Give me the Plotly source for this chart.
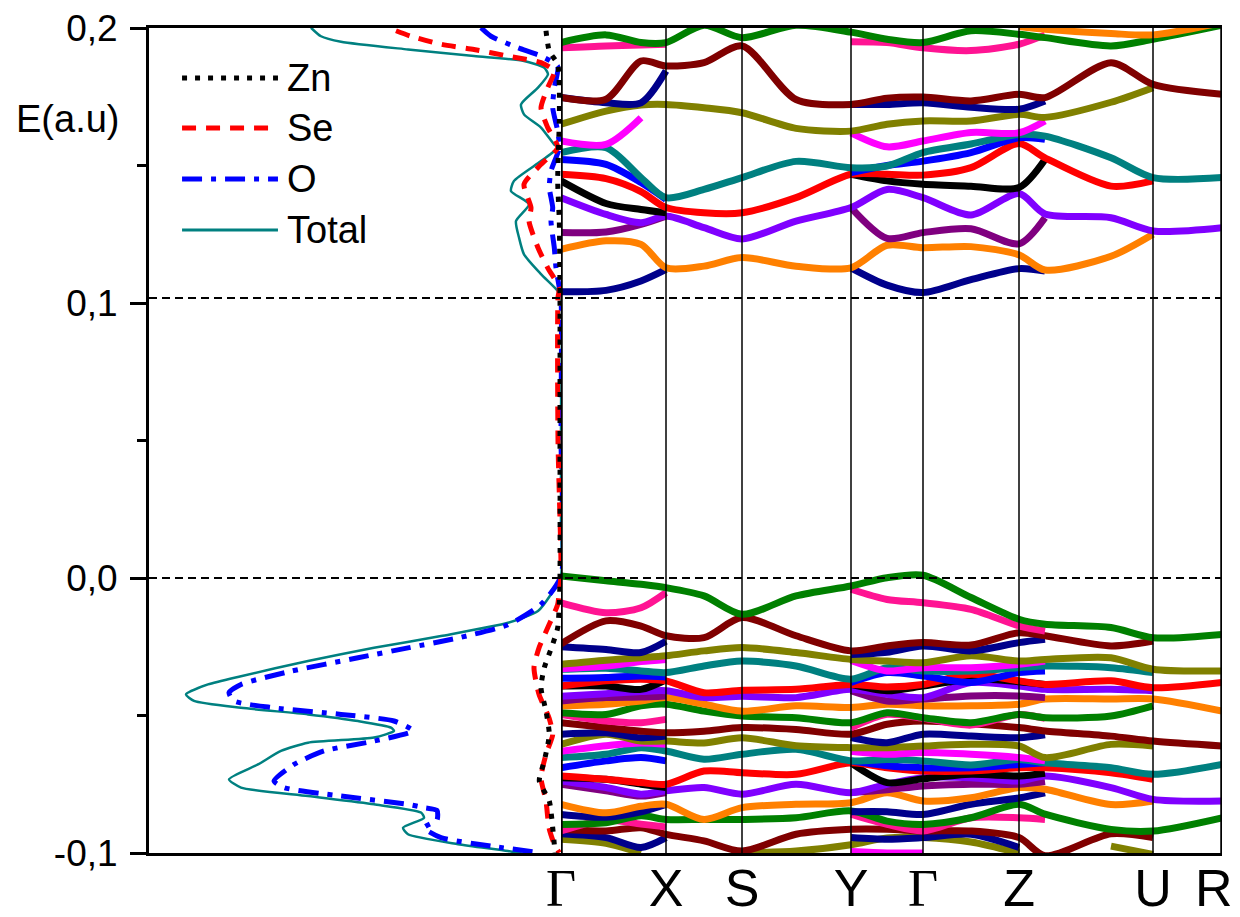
import plotly.graph_objects as go

N = None

# ---------------- k-path (band panel) ----------------
K = [0.00, 0.45, 0.80, 1.05, 1.43, 1.81, 2.35, 2.90, 3.26, 3.62, 4.10, 4.58, 4.84, 5.50, 5.92, 6.61]
SYM_K = [0.00, 1.05, 1.81, 2.90, 3.62, 4.58, 5.92, 6.61]
SYM_LABELS = ["Γ", "X", "S", "Y", "Γ", "Z", "U", "R"]
E_VBM = 0.0
E_CBM = 0.1018

# ---------------- conduction bands (E in a.u.) ----------------
c_navy1 = [0.1041, 0.1046, 0.1080, 0.1122, N, N, N, 0.1128, 0.1065, 0.1038, 0.1085, 0.1125, 0.1116, N, N, N]
c_orange = [0.1195, 0.1226, 0.1213, 0.1128, 0.1134, 0.1165, 0.1134, 0.1128, 0.1210, 0.1201, 0.1205, 0.1175, 0.1120, 0.1170, 0.1250, N]
c_purple = [0.1256, 0.1258, 0.1286, 0.1316, N, N, N, 0.1347, 0.1235, 0.1256, 0.1270, 0.1215, 0.1310, N, N, N]
c_violet = [0.1383, 0.1322, 0.1292, 0.1316, 0.1274, 0.1233, 0.1298, 0.1347, 0.1413, 0.1383, 0.1320, 0.1398, 0.1324, 0.1310, 0.1262, 0.1274]
c_black = [0.1444, 0.1362, 0.1340, 0.1328, N, N, N, 0.1468, 0.1444, 0.1432, 0.1425, 0.1420, 0.1522, N, N, N]
c_red = [0.1468, 0.1452, 0.1405, 0.1347, 0.1328, 0.1328, 0.1383, 0.1468, 0.1468, 0.1465, 0.1492, 0.1580, 0.1528, 0.1425, 0.1444, N]
c_blue = [0.1522, 0.1504, 0.1438, 0.1377, N, N, N, 0.1474, 0.1500, 0.1516, 0.1547, 0.1601, 0.1595, N, N, N]
c_teal = [0.1547, 0.1565, 0.1456, 0.1383, 0.1413, 0.1456, 0.1515, 0.1492, 0.1498, 0.1547, 0.1578, 0.1613, 0.1607, 0.1528, 0.1456, 0.1456]
c_magenta = [0.1589, 0.1577, 0.1674, N, N, N, N, 0.1619, 0.1568, 0.1589, 0.1620, 0.1619, 0.1662, N, N, N]
c_olive = [0.1650, 0.1698, 0.1720, 0.1722, 0.1710, 0.1692, 0.1635, 0.1625, 0.1650, 0.1662, 0.1662, 0.1686, 0.1675, 0.1730, 0.1783, N]
c_navy2 = [0.1747, 0.1728, 0.1728, 0.1844, N, N, N, 0.1722, 0.1722, 0.1728, 0.1712, 0.1705, 0.1735, N, N, N]
c_maroon = [0.1747, 0.1741, 0.1880, 0.1862, 0.1874, 0.1935, 0.1740, 0.1722, 0.1745, 0.1749, 0.1735, 0.1759, 0.1747, 0.1874, 0.1795, 0.1759]
c_pink = [0.1928, 0.1935, 0.1938, 0.1941, N, N, N, 0.1950, 0.1947, 0.1928, 0.1918, 0.1941, 0.1975, N, N, N]
c_green = [0.1947, 0.1975, 0.1947, 0.1947, 0.2010, 0.1965, 0.2010, 0.1985, 0.1959, 0.1947, 0.1990, 0.1977, 0.1965, 0.1935, 0.1959, 0.2010]
c_orange_top = [N, N, N, N, N, N, N, N, N, N, N, 0.2005, 0.1995, 0.1980, 0.1975, 0.2020]

# ---------------- valence bands ----------------
v_green1 = [0.0007, -0.0010, -0.0023, -0.0035, -0.0065, -0.0132, -0.0065, -0.0029, 0.0001, 0.0010, -0.0071, -0.0150, -0.0168, -0.0180, -0.0217, -0.0205]
v_pink1 = [-0.0090, -0.0126, -0.0108, -0.0053, N, N, N, -0.0041, -0.0078, -0.0090, -0.0114, -0.0174, -0.0193, N, N, N]
v_maroon1 = [-0.0240, -0.0156, -0.0175, -0.0210, -0.0217, -0.0144, -0.0210, -0.0265, -0.0247, -0.0235, -0.0244, -0.0199, -0.0210, -0.0247, -0.0229, N]
v_navy1 = [-0.0250, -0.0260, -0.0271, -0.0230, N, N, N, -0.0278, -0.0270, -0.0247, -0.0265, -0.0235, -0.0223, N, N, N]
v_olive1 = [-0.0314, -0.0299, -0.0290, -0.0283, -0.0265, -0.0253, -0.0271, -0.0296, -0.0302, -0.0308, -0.0283, -0.0302, -0.0296, -0.0290, -0.0332, -0.0338]
v_magenta1 = [-0.0330, -0.0320, -0.0304, -0.0296, N, N, N, -0.0300, -0.0338, -0.0326, -0.0326, -0.0314, -0.0302, N, N, N]
v_teal1 = [-0.0332, -0.0328, -0.0338, -0.0344, -0.0320, -0.0302, -0.0320, -0.0368, -0.0326, -0.0338, -0.0338, -0.0326, -0.0320, -0.0326, -0.0344, N]
v_blue1 = [-0.0365, -0.0362, -0.0356, -0.0360, N, N, N, -0.0380, -0.0344, -0.0356, -0.0380, -0.0344, -0.0338, N, N, N]
v_red1 = [-0.0393, -0.0374, -0.0368, -0.0374, -0.0417, -0.0408, -0.0405, -0.0387, -0.0396, -0.0387, -0.0350, -0.0374, -0.0387, -0.0374, -0.0399, -0.0380]
v_black1 = [-0.0393, -0.0393, -0.0405, -0.0370, N, N, N, -0.0387, -0.0410, -0.0393, -0.0368, -0.0377, -0.0387, N, N, N]
v_violet1 = [-0.0430, -0.0421, -0.0413, -0.0410, -0.0435, -0.0430, -0.0435, -0.0405, -0.0423, -0.0435, -0.0380, -0.0393, -0.0405, -0.0405, -0.0410, N]
v_purple1 = [-0.0447, -0.0435, -0.0433, -0.0429, N, N, N, -0.0410, -0.0447, -0.0440, -0.0429, -0.0429, -0.0435, N, N, N]
v_orange1 = [-0.0465, -0.0459, -0.0447, -0.0435, -0.0459, -0.0484, -0.0465, -0.0471, -0.0459, -0.0465, -0.0465, -0.0459, -0.0440, -0.0440, -0.0440, -0.0484]
v_green2 = [-0.0490, -0.0496, -0.0465, -0.0459, -0.0484, -0.0502, -0.0508, -0.0526, -0.0490, -0.0508, -0.0526, -0.0496, -0.0508, -0.0502, -0.0465, N]
v_pink2 = [-0.0496, -0.0520, -0.0526, -0.0514, N, N, N, -0.0545, -0.0496, -0.0510, -0.0535, -0.0496, -0.0510, N, N, N]
v_maroon2 = [-0.0526, -0.0544, -0.0557, -0.0563, -0.0557, -0.0544, -0.0551, -0.0568, -0.0532, -0.0520, -0.0530, -0.0544, -0.0556, -0.0575, -0.0593, -0.0611]
v_navy2 = [-0.0568, -0.0563, -0.0581, -0.0575, N, N, N, -0.0580, -0.0599, -0.0568, -0.0575, -0.0581, -0.0570, N, N, N]
v_olive2 = [-0.0605, -0.0568, -0.0593, -0.0593, -0.0600, -0.0581, -0.0610, -0.0617, -0.0617, -0.0611, -0.0605, -0.0611, -0.0653, -0.0605, -0.0611, N]
v_magenta2 = [-0.0630, -0.0610, -0.0600, -0.0605, N, N, N, -0.0630, -0.0641, -0.0635, -0.0641, -0.0653, -0.0665, N, N, N]
v_teal2 = [-0.0653, -0.0641, -0.0617, -0.0629, -0.0659, -0.0641, -0.0623, -0.0665, -0.0660, -0.0665, -0.0680, -0.0660, -0.0672, -0.0690, -0.0714, -0.0678]
v_blue2 = [-0.0690, -0.0665, -0.0653, -0.0665, N, N, N, -0.0665, -0.0683, -0.0690, -0.0690, -0.0678, -0.0672, N, N, N]
v_red2 = [-0.0720, -0.0732, -0.0744, -0.0750, -0.0702, -0.0708, -0.0714, -0.0672, -0.0690, -0.0702, -0.0702, -0.0690, -0.0690, -0.0708, -0.0732, N]
v_black2 = [-0.0726, -0.0732, -0.0750, -0.0762, N, N, N, -0.0672, -0.0744, -0.0730, -0.0714, -0.0720, -0.0710, N, N, N]
v_violet2 = [-0.0738, -0.0762, -0.0786, -0.0774, -0.0762, -0.0786, -0.0750, -0.0781, -0.0750, -0.0726, -0.0726, -0.0738, -0.0720, -0.0762, -0.0805, -0.0811]
v_purple2 = [-0.0750, -0.0774, -0.0793, -0.0780, N, N, N, -0.0780, -0.0770, -0.0756, -0.0750, -0.0750, -0.0740, N, N, N]
v_orange2 = [-0.0823, -0.0854, -0.0830, -0.0823, -0.0878, -0.0835, -0.0823, -0.0817, -0.0781, -0.0811, -0.0799, -0.0762, -0.0768, -0.0824, -0.0811, N]
v_navy3 = [-0.0860, -0.0870, -0.0850, -0.0823, N, N, N, -0.0850, -0.0850, -0.0860, -0.0823, -0.0800, -0.0781, N, N, N]
v_green3 = [-0.0896, -0.0890, -0.0865, -0.0878, -0.0878, -0.0878, -0.0872, -0.0847, -0.0884, -0.0896, -0.0872, -0.0823, -0.0859, -0.0914, -0.0920, -0.0872]
v_pink3 = [-0.0920, -0.0880, -0.0895, -0.0905, N, N, N, -0.0859, -0.0896, -0.0920, -0.0872, -0.0872, -0.0878, N, N, N]
v_maroon3 = [-0.0914, -0.0920, -0.0908, -0.0932, -0.0956, -0.0993, -0.0932, -0.0914, -0.0914, -0.0920, -0.0920, -0.0944, -0.1010, -0.0930, -0.0944, N]
v_navy4 = [-0.0930, -0.0944, -0.0980, -0.0944, N, N, N, -0.0944, -0.0950, -0.0944, -0.0932, -0.0980, N, N, N, N]
v_olive3 = [-0.0950, -0.0965, -0.1000, N, N, -0.1000, -0.0993, -0.0970, -0.0945, -0.0944, -0.0960, -0.1000, N, -0.0975, -0.1005, N]
v_magenta3 = [N, N, N, N, N, N, N, -0.0995, -0.1000, -0.1000, N, N, N, N, N, N]

# ---------------- partial DOS (arb. units, E in a.u.) ----------------
tot_E = [0.2001, 0.1970, 0.1950, 0.1922, 0.1898, 0.1880, 0.1856, 0.1832, 0.1783, 0.1722, 0.1686, 0.1638,
         0.1577, 0.1565, 0.1516, 0.1444, 0.1407, 0.1359, 0.1298, 0.1238, 0.1177, 0.1105, 0.1044, 0.1020,
         0.0600, 0.0200, 0.0007, -0.0059, -0.0120, -0.0163, -0.0211, -0.0254, -0.0302, -0.0357, -0.0387,
         -0.0423, -0.0447, -0.0472, -0.0496, -0.0520, -0.0544, -0.0556, -0.0580, -0.0599, -0.0629, -0.0678,
         -0.0732, -0.0762, -0.0793, -0.0823, -0.0853, -0.0872, -0.0908, -0.0932, -0.0968, -0.0993, -0.1005]
tot_D = [25.0, 24.0, 22.0, 15.3, 8.7, 3.7, 1.7, 1.3, 2.3, 4.0, 3.7, 2.0,
         0.7, 0.33, 2.0, 4.7, 5.0, 3.2, 4.5, 4.2, 3.7, 2.0, 0.33, 0.0,
         0.0, 0.0, 0.0, 1.0, 2.3, 5.3, 12.0, 18.7, 25.3, 32.0, 35.3,
         37.5, 36.7, 32.0, 25.3, 20.3, 17.0, 16.7, 18.7, 25.3, 28.0, 30.3,
         33.2, 32.0, 25.3, 18.7, 14.0, 13.7, 15.8, 15.3, 10.3, 5.3, 3.5]

O_E = [0.2001, 0.1970, 0.1928, 0.1898, 0.1860, 0.1783, 0.1710, 0.1625, 0.1565, 0.1480, 0.1420, 0.1347,
       0.1298, 0.1201, 0.1128, 0.1056, 0.1020, 0.0500, 0.0007, -0.0096, -0.0170, -0.0218, -0.0254, -0.0290,
       -0.0339, -0.0387, -0.0417, -0.0447, -0.0472, -0.0496, -0.0520, -0.0556, -0.0593, -0.0629, -0.0678,
       -0.0738, -0.0762, -0.0793, -0.0823, -0.0835, -0.0845, -0.0880, -0.0908, -0.0944, -0.0975, -0.0999]
O_D = [8.0, 7.0, 4.3, 2.0, 0.33, 0.67, 0.83, 0.33, 0.17, 1.0, 1.17, 0.83,
       1.0, 0.67, 0.5, 0.17, 0.0, 0.0, 0.0, 2.0, 5.3, 10.3, 15.3, 20.3,
       27.0, 32.0, 33.2, 32.7, 28.7, 22.0, 16.7, 14.8, 18.7, 23.7, 26.7,
       28.7, 27.7, 22.0, 15.3, 13.7, 12.4, 12.4, 13.7, 12.0, 7.0, 2.0]

Se_E = [0.1990, 0.1970, 0.1941, 0.1922, 0.1898, 0.1874, 0.1844, 0.1783, 0.1710, 0.1638, 0.1565, 0.1504,
        0.1432, 0.1347, 0.1298, 0.1201, 0.1128, 0.1056, 0.1020, 0.0500, 0.0007, -0.0047, -0.0096, -0.0181,
        -0.0254, -0.0326, -0.0423, -0.0508, -0.0570, -0.0641, -0.0726, -0.0811, -0.0908, -0.0968, -0.0999]
Se_D = [16.5, 15.0, 12.0, 8.7, 5.3, 2.0, 0.67, 1.33, 2.0, 1.33, 0.33, 2.0,
        3.7, 3.0, 3.2, 2.3, 1.33, 0.17, 0.3, 0.3, 0.0, 0.17, 0.33, 1.33,
        2.2, 2.7, 2.2, 1.2, 0.83, 1.5, 2.0, 1.5, 1.2, 0.67, 0.17]

Zn_E = [0.1990, 0.1916, 0.1868, 0.1783, 0.1662, 0.1444, 0.1298, 0.1020, 0.0500, 0.0000, -0.0096, -0.0181,
        -0.0241, -0.0326, -0.0399, -0.0484, -0.0570, -0.0665, -0.0738, -0.0811, -0.0908, -0.0968, -0.1000]
Zn_D = [1.5, 1.17, 0.33, 0.17, 0.17, 0.33, 0.17, 0.1, 0.1, 0.1, 0.17, 0.33,
        0.83, 1.67, 2.0, 1.5, 1.17, 1.67, 2.17, 1.17, 0.83, 0.67, 0.6]

DOS_MAX = 41.2
E_MIN, E_MAX = -0.1, 0.2

# ---------------- styles ----------------
COLORS = {
    "black": "#000000", "red": "#FF0000", "blue": "#0000FF", "magenta": "#FF00FF",
    "olive": "#808000", "navy": "#00008B", "violet": "#8000FF", "purple": "#800080",
    "maroon": "#800000", "teal": "#008080", "orange": "#FF8000", "pink": "#FF1493",
    "green": "#008000",
}

BANDS = [
    (c_navy1, "navy"), (c_orange, "orange"), (c_purple, "purple"), (c_violet, "violet"),
    (c_black, "black"), (c_red, "red"), (c_blue, "blue"), (c_teal, "teal"),
    (c_magenta, "magenta"), (c_olive, "olive"), (c_navy2, "navy"), (c_maroon, "maroon"),
    (c_pink, "pink"), (c_green, "green"), (c_orange_top, "orange"),
    (v_olive3, "olive"), (v_navy4, "navy"), (v_maroon3, "maroon"), (v_pink3, "pink"),
    (v_green3, "green"), (v_navy3, "navy"), (v_orange2, "orange"), (v_purple2, "purple"),
    (v_violet2, "violet"), (v_black2, "black"), (v_red2, "red"), (v_blue2, "blue"),
    (v_teal2, "teal"), (v_magenta2, "magenta"), (v_olive2, "olive"), (v_navy2, "navy"),
    (v_maroon2, "maroon"), (v_pink2, "pink"), (v_green2, "green"), (v_orange1, "orange"),
    (v_purple1, "purple"), (v_violet1, "violet"), (v_black1, "black"), (v_red1, "red"),
    (v_blue1, "blue"), (v_teal1, "teal"), (v_magenta1, "magenta"), (v_olive1, "olive"),
    (v_navy1, "navy"), (v_maroon1, "maroon"), (v_pink1, "pink"), (v_green1, "green"),
    (v_magenta3, "magenta"),
]

DOS_STYLE = [
    ("Total", tot_D, tot_E, dict(color="#008080", width=2.5, dash="solid")),
    ("O", O_D, O_E, dict(color="#0000FF", width=5, dash="20px,9px,5px,9px")),
    ("Se", Se_D, Se_E, dict(color="#FF0000", width=5, dash="14px,10px")),
    ("Zn", Zn_D, Zn_E, dict(color="#000000", width=5, dash="5px,8px")),
]

FONT = "Liberation Sans, Arial, sans-serif"
SPLIT = 412 / 1073

fig = go.Figure()

for vals, col in BANDS:
    fig.add_trace(go.Scatter(
        x=K, y=vals, xaxis="x2", yaxis="y", mode="lines", connectgaps=False,
        line=dict(color=COLORS[col], width=7, shape="spline", smoothing=0.8),
        showlegend=False, hoverinfo="skip"))

for name, d, e, ln in DOS_STYLE:
    fig.add_trace(go.Scatter(
        x=d, y=e, xaxis="x", yaxis="y", mode="lines", name=name,
        line=dict(color=ln["color"], width=ln["width"], dash=ln["dash"], shape="spline", smoothing=0.6),
        showlegend=False, hoverinfo="skip"))

shapes = []
for i, k in enumerate(SYM_K):
    edge = i == 0 or i == len(SYM_K) - 1
    shapes.append(dict(type="line", xref="x2", yref="y", x0=k, x1=k, y0=E_MIN, y1=E_MAX,
                       line=dict(color="black", width=3.5 if edge else 1.5), layer="above"))
for e in (E_VBM, E_CBM):
    shapes.append(dict(type="line", xref="paper", yref="y", x0=0, x1=1, y0=e, y1=e,
                       line=dict(color="black", width=2, dash="8px,5px"), layer="above"))

# manual legend (line samples + labels)
legend_rows = [0.9394, 0.8788, 0.8170, 0.7552]
legend_items = [("Zn", DOS_STYLE[3][3]), ("Se", DOS_STYLE[2][3]), ("O", DOS_STYLE[1][3]), ("Total", DOS_STYLE[0][3])]
annotations = []
for (label, ln), yy in zip(legend_items, legend_rows):
    shapes.append(dict(type="line", xref="paper", yref="paper", x0=0.0308, x1=0.1202, y0=yy, y1=yy,
                       line=dict(color=ln["color"], width=ln["width"] if label != "Total" else 3, dash=ln["dash"])))
    annotations.append(dict(xref="paper", yref="paper", x=0.1270, y=yy, text=label, showarrow=False,
                            xanchor="left", yanchor="middle", font=dict(family=FONT, size=38, color="black")))

annotations.append(dict(xref="paper", yref="paper", x=-0.0755, y=0.8897, text="E(a.u)", showarrow=False,
                        xanchor="center", yanchor="middle", font=dict(family=FONT, size=38, color="black")))

# tick labels of the k-path; the last one (R) is placed as an annotation nudged left so it stays on the page
tick_text = []
for s in SYM_LABELS[:-1]:
    tick_text.append('<span style="font-family:Liberation Serif">Γ</span>' if s == "Γ" else s)
tick_text.append("")
annotations.append(dict(xref="x2", yref="paper", x=SYM_K[-1], y=0, text=SYM_LABELS[-1], showarrow=False,
                        xanchor="center", yanchor="top", xshift=-8, yshift=-5, borderpad=0,
                        font=dict(family=FONT, size=52, color="black")))

# the page body adds an ~7px offset; compensate so the plot lands where the reference has it
OFF = 7
fig.update_layout(
    width=1240 - OFF, height=917 - OFF,
    margin=dict(l=148 - OFF, r=19, t=27 - OFF, b=65, pad=0, autoexpand=False),
    paper_bgcolor="white", plot_bgcolor="white",
    showlegend=False,
    shapes=shapes, annotations=annotations,
    xaxis=dict(domain=[0, SPLIT], range=[DOS_MAX, 0], anchor="y", showline=True, mirror=True, automargin=False,
               linecolor="black", linewidth=3, ticks="", showticklabels=False, showgrid=False, zeroline=False),
    xaxis2=dict(domain=[SPLIT, 1], range=[SYM_K[0], SYM_K[-1]], anchor="y", showline=True, mirror=True,
                automargin=False, linecolor="black", linewidth=3, ticks="", tickmode="array",
                tickvals=SYM_K, ticktext=tick_text, ticklabelstandoff=-12, ticklabeloverflow="allow",
                tickfont=dict(family=FONT, size=52, color="black"), showgrid=False, zeroline=False),
    yaxis=dict(domain=[0, 1], range=[E_MIN, E_MAX], anchor="x", showline=True, linecolor="black", linewidth=3,
               automargin=False, ticklabelstandoff=5, ticklabeloverflow="allow",
               tickmode="array", tickvals=[-0.1, 0.0, 0.1, 0.2], ticktext=["-0,1", "0,0", "0,1", "0,2"],
               ticks="outside", ticklen=16, tickwidth=3, tickcolor="black",
               minor=dict(tickvals=[-0.05, 0.05, 0.15], ticks="outside", ticklen=9, tickwidth=3, tickcolor="black"),
               tickfont=dict(family=FONT, size=37, color="black"), showgrid=False, zeroline=False),
)

fig.write_html("out.html")
